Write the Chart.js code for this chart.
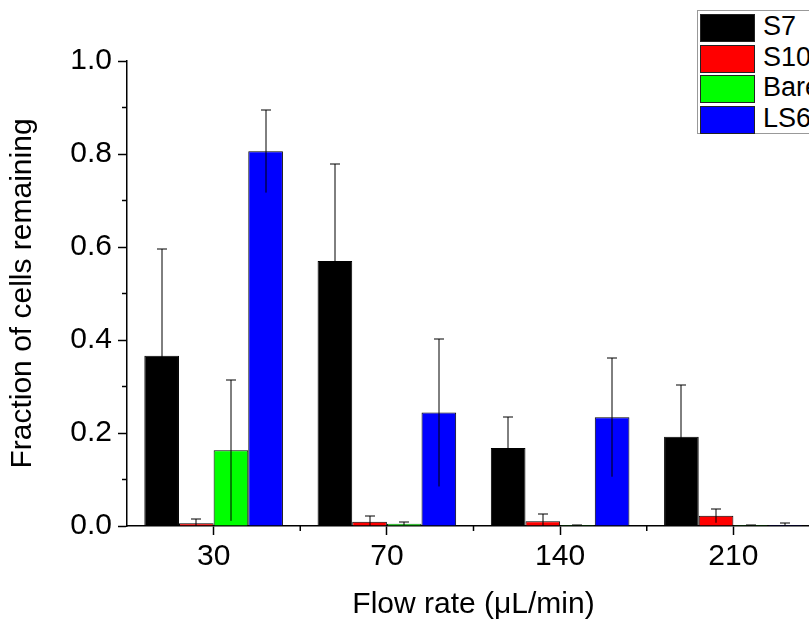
<!DOCTYPE html>
<html>
<head>
<meta charset="utf-8">
<script src="https://cdn.jsdelivr.net/npm/chart.js@4"></script>
<style>
  html, body { margin:0; padding:0; background:#fff; overflow:hidden; }
  #wrap { position:relative; width:809px; height:623px; overflow:hidden; }
  #box { position:absolute; left:0; top:0; width:840px; height:623px; }
  #legend { position:absolute; left:697px; top:10px; width:140px; height:122px; border:1px solid #999; background:#fff;
            font-family:"Liberation Sans", Arial, sans-serif; font-size:27px; color:#000; }
  .row { position:absolute; left:2px; height:27px; }
  .sw { position:absolute; left:0; top:0; width:53px; height:26px; border:1px solid #222; }
  .lb { position:absolute; left:63px; top:-3px; line-height:30px; white-space:nowrap; }
</style>
</head>
<body>
<div id="wrap">
  <div id="box"><canvas id="c" width="840" height="623"></canvas></div>
  <div id="legend"></div>
</div>
<script>
const categories = ["30", "70", "140", "210"];
const seriesNames = ["S7", "S10", "Bare", "LS6"];
const seriesColors = ["#000000", "#ff0000", "#00ff00", "#0000ff"];
const S7 = [0.366, 0.570, 0.168, 0.192];
const S7err = [0.229, 0.208, 0.067, 0.111];
const S10 = [0.006, 0.009, 0.010, 0.022];
const S10err = [0.009, 0.012, 0.016, 0.015];
const Bare = [0.163, 0.005, 0.002, 0.002];
const BareErr = [0.152, 0.003, 0.001, 0.001];
const LS6 = [0.806, 0.244, 0.234, 0.002];
const LS6err = [0.089, 0.159, 0.128, 0.004];
const yTicks = [0.0, 0.2, 0.4, 0.6, 0.8, 1.0];
const yMinorTicks = [0.1, 0.3, 0.5, 0.7, 0.9];

const values = [S7, S10, Bare, LS6];
const errors = [S7err, S10err, BareErr, LS6err];

// legend
const leg = document.getElementById('legend');
seriesNames.forEach((n, i) => {
  const r = document.createElement('div');
  r.className = 'row';
  r.style.top = (3 + i * 30.5) + 'px';
  r.innerHTML = '<div class="sw" style="background:' + seriesColors[i] + '"></div><div class="lb">' + n + '</div>';
  leg.appendChild(r);
});

const FONT = "'Liberation Sans', Arial, sans-serif";

const extras = {
  id: 'extras',
  afterDatasetsDraw(chart) {
    const ctx = chart.ctx;
    const y = chart.scales.y, x = chart.scales.x;
    ctx.save();
    // error bars (1px black straddling two pixels -> grey on white, dark on colour)
    ctx.strokeStyle = '#000';
    ctx.lineWidth = 1;
    chart.data.datasets.forEach((ds, di) => {
      const meta = chart.getDatasetMeta(di);
      meta.data.forEach((bar, i) => {
        const v = ds.data[i], e = errors[di][i];
        const px = Math.round(bar.x);
        const yt = Math.round(y.getPixelForValue(v + e)), yb = y.getPixelForValue(Math.max(0, v - e));
        ctx.beginPath();
        ctx.moveTo(px, yt); ctx.lineTo(px, yb);
        ctx.moveTo(px - 5, yt); ctx.lineTo(px + 5, yt);
        ctx.stroke();
      });
    });
    // minor ticks
    ctx.strokeStyle = '#000';
    ctx.lineWidth = 1.5;
    const ax = x.left;
    yMinorTicks.forEach(v => {
      const py = y.getPixelForValue(v);
      ctx.beginPath(); ctx.moveTo(ax - 5, py); ctx.lineTo(ax, py); ctx.stroke();
    });
    const n = categories.length;
    const step = x.getPixelForValue(1) - x.getPixelForValue(0);
    for (let i = 0; i < n; i++) {
      const bx = x.getPixelForValue(i) + step / 2;
      ctx.beginPath(); ctx.moveTo(bx, y.bottom); ctx.lineTo(bx, y.bottom + 5); ctx.stroke();
    }
    ctx.restore();
  }
};

new Chart(document.getElementById('c'), {
  type: 'bar',
  data: {
    labels: categories,
    datasets: seriesNames.map((n, i) => ({
      label: n,
      data: values[i],
      backgroundColor: seriesColors[i],
      borderColor: '#000',
      borderWidth: 1,
      borderSkipped: 'bottom',
      barPercentage: 1.0,
      categoryPercentage: 0.8
    }))
  },
  options: {
    responsive: false,
    animation: false,
    devicePixelRatio: 1,
    layout: { padding: { top: 61, right: 20, left: 0, bottom: 0 } },
    plugins: { legend: { display: false }, tooltip: { enabled: false } },
    scales: {
      x: {
        grid: { display: true, drawOnChartArea: false, offset: false, tickLength: 9, tickColor: '#000', tickWidth: 1.5 },
        border: { display: true, color: '#000', width: 1.5 },
        ticks: { color: '#000', font: { family: FONT, size: 30 }, padding: 4, maxRotation: 0 },
        title: { display: true, text: 'Flow rate (μL/min)', color: '#000', font: { family: FONT, size: 30 }, padding: { top: 6, bottom: 0 } },
        afterFit(s) { s.height = 97; }
      },
      y: {
        min: 0, max: 1.0,
        afterBuildTicks(s) { s.ticks = yTicks.map(v => ({ value: v })); },
        grid: { display: true, drawOnChartArea: false, tickLength: 9, tickColor: '#000', tickWidth: 1.5 },
        border: { display: true, color: '#000', width: 1.5 },
        ticks: { color: '#000', font: { family: FONT, size: 30 }, padding: 6, callback: v => Number(v).toFixed(1) },
        title: { display: true, text: 'Fraction of cells remaining', color: '#000', font: { family: FONT, size: 30 }, padding: { top: 5, bottom: 0 } },
        afterFit(s) { s.width = 127; }
      }
    }
  },
  plugins: [extras]
});
</script>
</body>
</html>
